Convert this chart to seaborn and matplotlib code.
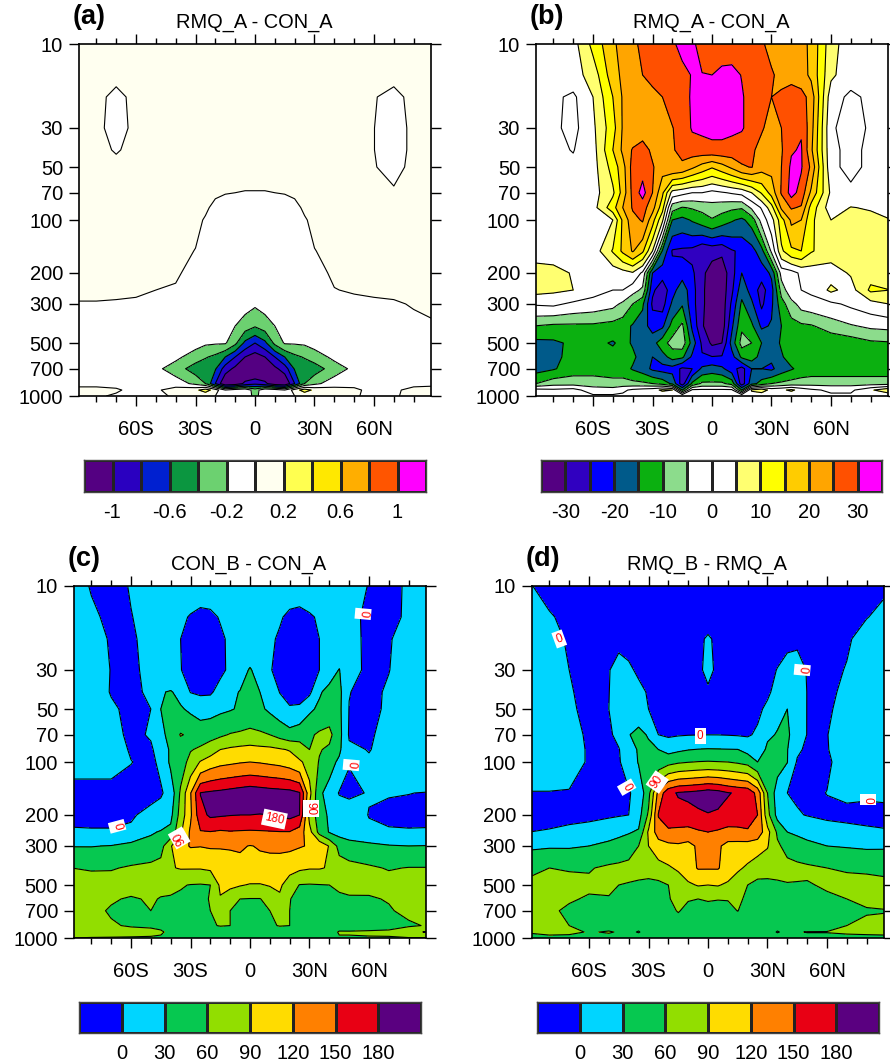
import numpy as np
import matplotlib
matplotlib.use("Agg")
import matplotlib.pyplot as plt
from matplotlib.colors import ListedColormap
import seaborn as sns

lat = [-90,-80,-70,-60,-50,-40,-30,-25,-20,-15,-10,-5,0,5,10,15,20,25,30,40,50,60,70,80,90]
lat_fine = [-90,-80,-70,-60,-50,-45,-40,-35,-30,-25,-20,-15,-10,-5,0,5,10,15,20,25,30,35,40,45,50,60,70,80,90]
lev = [10,15,20,30,40,50,70,85,100,150,200,250,300,400,500,600,700,850,925,1000]

# panel a
field_a = [
[.1,.1,.1,.1,.1,.1,.1,.1,.1,.1,.1,.1,.1,.1,.1,.1,.1,.1,.1,.1,.1,.1,.1,.1,.1],
[.1,.1,.1,.1,.1,.1,.1,.1,.1,.1,.1,.1,.1,.1,.1,.1,.1,.1,.1,.1,.1,.1,.1,.1,.1],
[.1,.1,-.1,.1,.1,.1,.1,.1,.1,.1,.1,.1,.1,.1,.1,.1,.1,.1,.1,.1,.1,.02,-.1,.1,.1],
[.1,.1,-.15,.1,.1,.1,.1,.1,.1,.1,.1,.1,.1,.1,.1,.1,.1,.1,.1,.1,.1,.005,-.19,.1,.1],
[.1,.1,-.03,.1,.1,.1,.1,.1,.1,.1,.1,.1,.1,.1,.1,.1,.1,.1,.1,.1,.1,.005,-.19,.1,.1],
[.1,.1,.1,.1,.1,.1,.1,.1,.1,.1,.1,.1,.1,.1,.1,.1,.1,.1,.1,.1,.1,.02,-.12,.1,.1],
[.1,.1,.1,.1,.1,.1,.1,.08,.05,.01,0,-.01,-.01,-.01,0,.01,.05,.08,.1,.1,.1,.1,.05,.1,.1],
[.1,.1,.1,.1,.1,.1,.1,.05,-.08,-.1,-.1,-.1,-.1,-.1,-.1,-.1,-.08,.05,.1,.1,.1,.1,.1,.1,.1],
[.1,.1,.1,.1,.1,.1,.08,-.03,-.1,-.1,-.1,-.1,-.1,-.1,-.1,-.1,-.1,-.03,.08,.1,.1,.1,.1,.1,.1],
[.1,.1,.1,.1,.1,.1,-.01,-.1,-.1,-.1,-.1,-.1,-.1,-.1,-.1,-.1,-.1,-.1,-.01,.1,.1,.1,.1,.1,.1],
[.08,.08,.08,.08,.08,.04,-.1,-.1,-.1,-.1,-.1,-.1,-.1,-.1,-.1,-.1,-.1,-.1,-.1,.05,.08,.1,.1,.1,.1],
[.07,.07,.06,.05,0,-.03,-.1,-.1,-.1,-.1,-.1,-.1,-.1,-.1,-.1,-.1,-.1,-.1,-.1,-.01,.03,.05,.06,.06,.07],
[-.02,-.02,-.03,-.05,-.08,-.1,-.1,-.1,-.1,-.1,-.1,-.12,-.17,-.12,-.1,-.1,-.1,-.1,-.1,-.1,-.08,-.05,-.03,.02,.06],
[-.1,-.1,-.1,-.1,-.1,-.1,-.1,-.1,-.1,-.12,-.2,-.3,-.38,-.3,-.2,-.12,-.1,-.1,-.1,-.1,-.1,-.1,-.1,-.07,-.03],
[-.1,-.1,-.1,-.1,-.1,-.1,-.12,-.17,-.18,-.18,-.35,-.65,-.8,-.65,-.35,-.18,-.18,-.17,-.12,-.1,-.1,-.1,-.1,-.1,-.1],
[-.1,-.1,-.1,-.1,-.1,-.15,-.3,-.38,-.45,-.6,-.8,-1.0,-1.1,-1.0,-.8,-.6,-.45,-.38,-.3,-.15,-.1,-.1,-.1,-.1,-.1],
[-.1,-.1,-.1,-.1,-.15,-.3,-.5,-.55,-.58,-.9,-1.05,-1.25,-1.3,-1.25,-1.05,-.9,-.58,-.55,-.5,-.3,-.15,-.1,-.1,-.1,-.1],
[-.05,-.05,-.05,-.05,-.05,-.1,-.25,-.4,-.8,-1.2,-1.15,-.95,-.85,-.95,-1.15,-1.2,-.8,-.4,-.25,-.1,-.05,-.05,-.05,-.05,-.05],
[.05,.05,.02,-.05,-.03,.08,.15,.3,.1,-.2,-.1,-.05,-.3,-.05,-.1,-.2,.1,.3,.15,.08,.03,-.05,-.03,.05,.08],
[.02,.02,-.02,-.05,-.05,.03,.05,.03,0,-.1,-.05,-.1,-.25,-.1,-.05,-.1,0,.03,.05,.05,.02,-.05,-.02,.05,.1],
]

# panel b
field_b = [
[1,2,3,11.5,19,22,24.5,25.5,27,28,29.5,31,30.5,29,28.5,28,27.5,27,26,25.2,24.5,24,23,21.5,19,7,2,1,1],
[1,2,3,7,18,21,22.5,25,26,27,28,29,30.2,30.1,30,31,31.5,29.8,28,26.5,25.2,24.5,24,22,19,6,2,1,1],
[1,1,-1,5,15,20.5,22,23.5,24,25,27,28.5,30.5,31.5,32,32,31.5,30.5,28,26,25,25.3,26.5,27,23,2,-1,1,1],
[1,1,-1.5,4,13,20.5,21,22.5,23,24,24.8,27,30.5,31,31.5,31.5,31,30.5,28,25.3,24,25,27,29.5,22,.5,-1.5,.5,1],
[1,1,-.2,3,15,21,25.5,27,24,23,24.5,26.5,27.5,28,28.5,28.5,28,27,25.5,24,23.5,24.5,29.5,30.5,21,1,-1.2,1,1],
[1,1,1,3,12,18,27,28,25.5,22,25,24,21,18,15.5,18,21,24.5,25.2,22,21.5,25,31,30.5,24,1,-1.2,1,1],
[1,1,1,3,9,17,26.5,32,25,16,3,1.5,0,0,-1.5,-.5,.5,1.5,5,10.5,17,25.5,32,28,19,4,1,1,1],
[1,1,1,3,13,20,25.5,27,22,12,-8,-10.3,-9.5,-8.5,-7,-8,-9,-9.5,-4,.5,8,21,25.5,24.5,13,2,5.2,4.5,3.5],
[1,1,1,2,5,16,23.5,25.5,17,6,-15,-16.5,-14.5,-12.5,-10.5,-12.5,-14.5,-16,-13,-3,3,13,21,20,11,5,7,6.5,5.1],
[2,2,2,2,10.5,16,20.5,16,5,-15.5,-25.5,-26,-26.5,-29.5,-28.5,-29,-25.5,-24,-22,-17,-4,9,14,15,10.5,7,7,7,7],
[8,7,4.5,2,2,3,4.5,-1,-20,-23,-23,-22,-24,-29,-32,-33,-27,-20,-22,-23,-19,-3,-2,1,2,3,5.5,8,9],
[7,6,5,2,0,0,-3,-6,-24,-28,-22,-17,-23,-29,-33,-33,-26,-17,-22,-27,-22,-8,-1,0,1,6,3,11,10],
[.5,1,-1,-2,-3.5,-6,-10,-14,-26,-27,-19,-15.5,-23,-29,-33,-33,-24,-14,-19,-26,-21,-12,-7,-3,-2,-1,1,3,5.2],
[-10,-11,-11,-11,-12,-13,-15.5,-18,-22,-21,-13,-9,-21,-29.5,-33,-33,-21,-11,-14,-21,-19.5,-15,-12,-11,-10.5,-7.5,-5.5,-4,-3.5],
[-16.5,-16,-14,-13.5,-15.5,-13.5,-15.5,-16,-17,-12,-8,-7,-17,-26,-31,-30,-18,-8,-10,-15,-17,-14.5,-13.5,-12.5,-12,-14,-13,-11,-10.5],
[-17,-16.5,-13,-13,-13,-12.5,-14,-17,-20,-17,-13,-14,-21,-24.5,-24.8,-24.5,-22,-14,-12.5,-17,-19,-15.5,-13,-11,-10,-11.5,-13,-13,-13],
[-17,-15.5,-12.5,-12.5,-13,-13,-15.5,-17.5,-21,-22,-22,-26,-25,-19,-17.5,-19,-23,-27,-20,-20,-21,-17.5,-15.5,-13.5,-13,-13,-13,-13,-13],
[-10.5,-7,-7,-7,-8,-8,-8.5,-9,-10,-12,-16,-28,-14,-9,-9,-9,-12,-28,-17,-13,-10,-9,-8,-7.5,-7,-7,-7,-7,-7],
[2,1,2,-3,-3,-1,1,2,3,6,5,-15,1,1,1,1,1,-15,6,8,3,4,6,3,1,-1,-1,4,10],
[1,1,1,1,1,1,1,1,1,1,1,5,1,1,1,1,1,5,1,1,1,1,1,1,1,1,1,1,1],
]

# panel c
field_c = [
[20,-3,-10,2,10,12,15,15,15,15,15,15,15,15,15,15,15,15,15,15,15,15,15,14,10,-1,-10,5,15],
[20,8,-10,-1,10,9,8,5,-2,-8,-6,2,10,12,12,12,10,3,-6,-9,-3,3,8,9,8,-6,-10,6,15],
[25,12,-3,-6,14,9,5,0,-12,-15,-15,-5,5,12,12,12,5,-4,-15,-15,-12,0,6,10,12,-8,-3,15,22],
[25,15,-1,-6,8,8,5,1,-10,-13,-13,-6,5,20,32,20,2,-8,-12,-12,-8,0,18,31,10,-6,-1,18,24],
[25,18,-2,-8,6,28,32,22,-1,-5,-4,10,25,31,40,30,22,-1,-10,-12,-6,27,38,38,1,-10,5,18,25],
[25,20,5,-8,0,30,40,33,25,20,20,25,28,33,40,35,25,15,3,5,25,35,45,37,-1,-8,5,20,25],
[25,22,8,-5,2,22,40,62,55,45,50,55,62,65,68,65,60,50,42,50,55,65,68,40,-3,-4,10,22,25],
[25,22,10,-2,-3,10,35,42,58,65,75,90,95,98,100,98,97,93,88,72,60,62,55,35,5,-1,8,22,25],
[20,18,12,.5,-5,5,36,45,70,92,105,112,115,118,120,118,115,112,106,95,78,58,40,25,1,3,15,22,25],
[-20,-18,-12,-7,-5,-3,10,65,118,181,185,188,192,196,200,197,194,192,190,182,100,35,20,-2,-5,1.6,1.5,.4,-1],
[-6,-6,-6,-2,5,12,22,72,115,170,185,183,181,180,180,179,180,184,188,180,80,45,25,20,15,-1,-6,-6,-5],
[2.7,2,2,3,27,32,38,85,125,148,149,146,148,147,146,147,148,149,149,135,100,50,28,20,15,5,3,2,2],
[29,29,31,40,40,48,88,110,122,121,123,122,122,123,119,122,125,127,126,122,118,112,88,50,42,38,32,30,31],
[60,57,58,63,68,72,88,92,92,92,95,105,110,112,113,112,108,104,100,95,92,92,88,75,70,64,58,61,61],
[72,75,72,68,67,65,65,62,59,58,60,95,98,92,88,88,92,95,75,59,58,59,60,63,65,68,72,80,75],
[75,70,62,58,62,59,58,56,55,52,62,88,68,60,59,59,70,85,61,52,52,54,56,57,58,57,62,72,75],
[72,65,58,55,60,58,56,53,50,52,60,72,60,50,50,50,60,72,60,50,47,47,48,49,50,52,57,68,72],
[70,68,62,58,57,56,56,53,50,45,56,62,60,45,42,45,55,62,60,45,42,46,50,49,48,46,50,55,63],
[70,78,72,68,65,62,56,50,45,42,40,40,40,40,40,40,40,40,40,42,45,45,50,62,62,64,65,85,92],
[60,58,58,58,58,58,58,58,58,58,58,58,58,58,58,58,58,58,58,58,58,58,58,58,58,58,58,58,58],
]

# panel d
field_d = [
[2,-10,-10,-10,-10,-10,-10,-10,-10,-10,-10,-10,-10,-10,-10,-10,-10,-10,-10,-10,-10,-10,-10,-10,-10,-10,-10,-10,-3],
[15,3,-8,-10,-10,-10,-10,-10,-10,-10,-10,-10,-10,-10,-10,-10,-10,-10,-10,-10,-10,-10,-10,-10,-10,-10,-8,-1,8],
[25,8,-3,-10,-10,-10,-10,-10,-10,-10,-10,-10,-10,-5,3,-5,-10,-10,-10,-10,-10,-10,-10,-10,-10,-10,-4,12,18],
[28,12,0,-10,-2,15,5,-5,-10,-10,-10,-10,-10,-4,5,-4,-10,-10,-10,-10,-8,1,15,22,-3,-10,2,18,20],
[28,20,3,-10,-1,20,20,8,-3,-8,-10,-10,-10,-6,-3,-6,-10,-10,-10,-8,-4,8,20,24,-1,-8,8,22,24],
[28,22,5,-8,0,22,25,18,0,-8,-10,-10,-10,-8,-7,-8,-10,-10,-10,-5,5,22,30,22,-1,-5,12,25,26],
[28,25,7,-3,-3,5,29,36,28,0,-4,-2,-1,-.5,-.2,-.3,-1,-2,-3,4,25,32,33,20,-1,-1,18,25,26],
[28,27,12,-3,-6,-1,12,34,35,30,20,25,29,31,32,31.5,31,30.5,20,10,36,40,31,5,-5,-2,20,27,28],
[28,27,12,-3,-8,-2,10,32,38,40,50,56,59,61,62,61,60,56,50,30,40,42,30.5,-3,-8,-4,12,25,26],
[-2,-2,-2,-5,-10,-8,-2,8,50,130,170,183,186,190,196,192,182,176,172,140,60,15,0,-3,-6,.5,6,4,5],
[-8,-8,-7,-6,-4,-2,0,18,65,152,165,167,170,175,178,175,170,165,165,150,70,20,10,2,-1,-5,-8,-8,-7],
[0,2,6,10,20,24,28,33,95,135,145,143,140,146,150,146,140,143,146,140,100,55,30,25,20,12,10,5,2],
[25,27,27,30,36,40,45,60,90,105,112,115,110,125,130,125,110,108,107,100,92,65,50,44,38,30,28,26,27],
[55,60,58,58,65,67,70,71,72,80,86,95,108,122,122,122,108,95,85,77,72,71,70,67,65,60,58,55,50],
[65,68,68,65,63,60,58,55,52,52,60,70,85,92,90,92,85,72,60,50,52,55,58,58,58,63,66,70,70],
[75,68,63,57,59,56,54,52,50,50,58,68,62,60,63,61,61,65,55,50,48,50,52,53,54,56,60,65,68],
[75,65,55,50,52,51,50,47,45,45,52,62,52,50,48,50,54,60.5,50,45,45,45,46,47,48,50,55,58,59],
[70,66,60,52,50,47,45,45,45,45,45,45,45,45,45,45,45,45,45,45,45,45,45,45,45,48,60,65,66],
[62,68,66,58,62,58,40,27,50,50,50,50,50,50,50,50,50,50,50,50,50,27,42,58,61,61,64,66,68],
[52,52,52,52,52,52,52,52,52,52,52,52,52,52,52,52,52,52,52,52,52,52,52,52,52,52,52,52,52],
]

levels_a = [-1,-.8,-.6,-.4,-.2,0,.2,.4,.6,.8,1]
levels_b = [-30,-25,-20,-15,-10,-5,0,5,10,15,20,25,30]
levels_c = [0,30,60,90,120,150,180]

colors_a = ['#540082','#2a00c0','#0020d0','#0b9640','#6cd170','#ffffff','#fffff0','#ffff50','#ffe800','#ffae00','#ff5500','#ff00ff']
colors_b = ['#540082','#3000c0','#0000ff','#005a8a','#0bb010','#8cdc8c','#ffffff','#ffffff','#ffff70','#ffff00','#ffcc00','#ffa500','#ff5000','#ff00ff']
colors_c = ['#0000ff','#00d5ff','#06c850','#92de00','#ffdc00','#ff8000','#e80014','#5a0080']

labels_a = ['-1','','-0.6','','-0.2','','0.2','','0.6','','1']
labels_b = ['-30','','-20','','-10','','0','','10','','20','','30']
labels_c = ['0','30','60','90','120','150','180']

# contour labels: lat, pressure, text, rotation
marks_c = [(57,14.4,'0',265),(51,104,'0',265),(-67,232,'0',285),(-35.7,270,'90',120),(12.3,211,'180',-12),(30.6,183,'90',270)]
marks_d = [(-75,20,'0',20),(47.5,30,'0',265),(-4,71,'0',0),(-41,139,'0',300),(-25.6,130,'90',55),(80.5,164,'0',270)]

sns.set_style("ticks")
plt.rcParams['font.family'] = ['Liberation Sans', 'DejaVu Sans']
plt.rcParams['text.color'] = 'k'
plt.rcParams['xtick.color'] = 'k'
plt.rcParams['ytick.color'] = 'k'

W, H = 890, 1063
fig = plt.figure(figsize=(W/100, H/100), dpi=100)

def rect(x, y, w, h):
    return [x/W, 1-(y+h)/H, w/W, h/H]

def panel(x, y, xs, z, levels, colors, title, tag):
    ax = fig.add_axes(rect(x, y, 352, 352))
    z = np.array(z, dtype=float)
    ax.contourf(xs, lev, z, levels=levels, colors=colors, extend='both')
    ax.contour(xs, lev, z, levels=levels, colors='k', linewidths=0.8, linestyles='solid')
    ax.set_yscale('log')
    ax.set_ylim(1000, 10)
    ax.set_xlim(-88.75, 88.75)
    ax.set_yticks([10,30,50,70,100,200,300,500,700,1000])
    ax.set_yticklabels(['10','30','50','70','100','200','300','500','700','1000'], fontsize=14.5)
    ax.minorticks_off()
    ax.set_xticks([-60,-30,0,30,60])
    ax.set_xticklabels(['60S','30S','0','30N','60N'], fontsize=14.5)
    ax.set_xticks([-80,-70,-50,-40,-20,-10,10,20,40,50,70,80], minor=True)
    ax.tick_params(axis='x', which='major', top=True, length=7.5, width=1, pad=10)
    ax.tick_params(axis='x', which='minor', top=True, length=4, width=1)
    ax.tick_params(axis='y', which='major', right=True, length=7.5, width=1, pad=4)
    for s in ax.spines.values():
        s.set_linewidth(1.2)
        s.set_color('k')
    fig.text((x+175)/W, 1-(y-22)/H, title, ha='center', va='center', fontsize=14.4)
    fig.text((x-6)/W, 1-(y-27)/H, tag, ha='left', va='center', fontsize=19.5, fontweight='bold')
    return ax

def colorbar(x, y, w, h, colors, labels):
    ax = fig.add_axes(rect(x, y, w, h))
    cells = np.arange(len(colors))[None, :]
    sns.heatmap(cells, cmap=ListedColormap(colors), cbar=False, ax=ax, linewidths=1,
                linecolor='#222222', xticklabels=False, yticklabels=False)
    ax.set_xticks(np.arange(1, len(colors)))
    ax.set_xticklabels(labels, fontsize=14.5, rotation=0)
    ax.tick_params(axis='x', length=0, pad=8)
    for s in ax.spines.values():
        s.set_visible(True)
        s.set_linewidth(1)
        s.set_color('#444444')

def add_marks(ax, marks):
    for la, p, t, r in marks:
        ax.text(la, p, t, color='red', fontsize=8.5, rotation=r, ha='center', va='center',
                bbox=dict(fc='white', ec='none', pad=1.5), zorder=5)

panel(79, 44, lat, field_a, levels_a, colors_a, 'RMQ_A - CON_A', '(a)')
panel(536, 44, lat_fine, field_b, levels_b, colors_b, 'RMQ_A - CON_A', '(b)')
ax_c = panel(74, 586, lat_fine, field_c, levels_c, colors_c, 'CON_B - CON_A', '(c)')
ax_d = panel(532, 586, lat_fine, field_d, levels_c, colors_c, 'RMQ_B - RMQ_A', '(d)')
add_marks(ax_c, marks_c)
add_marks(ax_d, marks_d)

colorbar(84, 460, 342, 32, colors_a, labels_a)
colorbar(541, 460, 341, 32, colors_b, labels_b)
colorbar(79, 1002, 342, 31, colors_c, labels_c)
colorbar(537, 1002, 342, 31, colors_c, labels_c)

fig.savefig('out.png', dpi=100)
